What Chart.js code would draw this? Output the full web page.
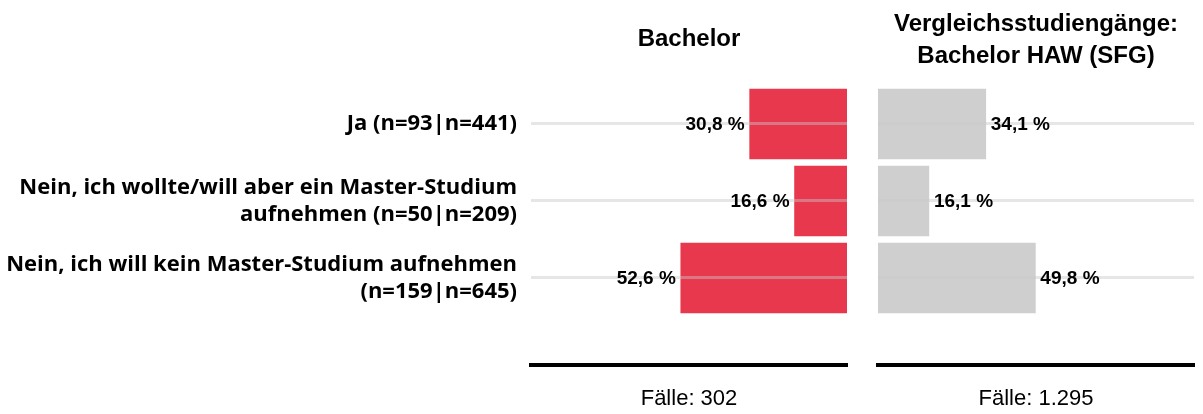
<!DOCTYPE html>
<html><head><meta charset="utf-8">
<script src="https://cdn.jsdelivr.net/npm/chart.js@4/dist/chart.umd.min.js"></script>
<style>
html,body{margin:0;padding:0;background:#fff;}
#wrap{position:relative;width:1203px;height:414px;background:#fff;}
#wrap canvas{position:absolute;left:0;top:0;}
</style></head><body>
<div id="wrap"><canvas id="c1" width="1203" height="414"></canvas><canvas id="c2" width="1203" height="414"></canvas></div>
<script>
// ---- data ----
const categories = [
  ['Ja (n=93|n=441)'],
  ['Nein, ich wollte/will aber ein Master-Studium', 'aufnehmen (n=50|n=209)'],
  ['Nein, ich will kein Master-Studium aufnehmen', '(n=159|n=645)']
];
const bachelorValues = [30.8, 16.6, 52.6];
const sfgValues = [34.1, 16.1, 49.8];
const bachelorTitle = ['Bachelor'];
const sfgTitle = ['Vergleichsstudiengänge:', 'Bachelor HAW (SFG)'];
const bachelorCases = 'Fälle: 302';
const sfgCases = 'Fälle: 1.295';

const RED = '#E8384D';
const GREY = '#CFCFCF';
const SANS = '"Liberation Sans", Arial, sans-serif';

const valueLabels = {
  id: 'valueLabels',
  afterDraw(chart, args, opts) {
    const ctx = chart.ctx;
    const meta = chart.getDatasetMeta(0);
    const ds = chart.data.datasets[0].data;
    ctx.save();
    ctx.font = 'bold 19px ' + SANS;
    ctx.fillStyle = '#000';
    ctx.textBaseline = 'middle';
    meta.data.forEach((bar, i) => {
      const txt = ds[i].x.toFixed(1).replace('.', ',') + ' %';
      if (opts.side === 'left') { ctx.textAlign = 'right'; ctx.fillText(txt, bar.x - 5, bar.y + 1); }
      else { ctx.textAlign = 'left'; ctx.fillText(txt, bar.x + 5, bar.y + 1); }
    });
    ctx.restore();
  }
};

function makeChart(id, values, color, opts) {
  return new Chart(document.getElementById(id), {
    type: 'bar',
    data: {
      datasets: [{
        data: values.map((v, i) => ({ x: v, y: i })),
        backgroundColor: color,
        borderWidth: 0,
        barThickness: 70,
        xAxisID: 'x', yAxisID: 'y'
      }]
    },
    plugins: [valueLabels],
    options: {
      indexAxis: 'y',
      responsive: false,
      animation: false,
      events: [],
      layout: { padding: opts.padding },
      plugins: { legend: { display: false }, tooltip: { enabled: false }, title: { display: false }, valueLabels: { side: opts.side } },
      scales: {
        x: {
          type: 'linear', position: 'bottom', min: 0, max: 100, reverse: opts.side === 'left',
          grid: { display: false, drawTicks: false, lineWidth: 2 },
          border: { display: true, width: 4, color: '#000' },
          ticks: { display: false },
          title: { display: true, text: opts.cases, color: '#000',
                   font: { family: SANS, size: 22, weight: 'normal', lineHeight: '26.4px' },
                   padding: { top: 20.6, bottom: 2 } }
        },
        x2: {
          type: 'linear', position: 'top', min: 0, max: 100,
          grid: { display: false, drawTicks: false },
          border: { display: false },
          ticks: { display: false },
          title: { display: true, text: opts.title, color: '#000',
                   font: { family: SANS, size: 24, weight: 'bold', lineHeight: '32px' },
                   padding: opts.titlePadding }
        },
        y: {
          type: 'linear', reverse: true, min: -0.5, max: 3.13, offset: false,
          afterBuildTicks: s => { s.ticks = categories.map((c, i) => ({ value: i })); },
          afterFit: s => { s.width = opts.yWidth; },
          grid: { display: true, offset: false, drawTicks: false, z: 1, color: 'rgba(200,200,200,0.45)', lineWidth: 3 },
          border: { display: false },
          ticks: { display: opts.showY, padding: 14, autoSkip: false, color: '#000',
                   font: { family: '"Open Sans", Lato, sans-serif', weight: 'bold', size: 22, lineHeight: '27px' },
                   callback: v => categories[v] }
        }
      }
    }
  });
}

makeChart('c1', bachelorValues, RED, {
  side: 'left', padding: { left: 0, right: 356, top: 0, bottom: 0 },
  title: bachelorTitle, cases: bachelorCases, titlePadding: { top: 23.2, bottom: 30.3 },
  showY: true, yWidth: 531
});
makeChart('c2', sfgValues, GREY, {
  side: 'right', padding: { left: 878, right: 9, top: 0, bottom: 0 },
  title: sfgTitle, cases: sfgCases, titlePadding: { top: 8.5, bottom: 13 },
  showY: false, yWidth: 0
});
</script>
</body></html>
